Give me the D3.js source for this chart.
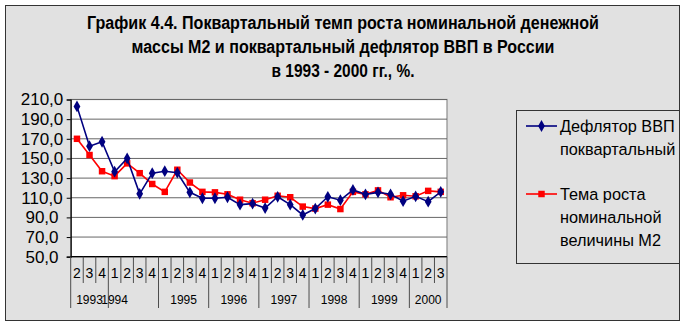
<!DOCTYPE html>
<html>
<head>
<meta charset="utf-8">
<script src="https://cdn.jsdelivr.net/npm/d3@7"></script>
<style>
  html, body { margin: 0; padding: 0; background: #ffffff; }
  svg { display: block; }
  text { font-family: "Liberation Sans", Arial, sans-serif; fill: #000; }
</style>
</head>
<body>
<svg id="chart" width="686" height="328"></svg>
<script>
// Quarterly data, 1993 Q2 – 2000 Q3
const quarterLabels = [
  "2","3","4",
  "1","2","3","4",
  "1","2","3","4",
  "1","2","3","4",
  "1","2","3","4",
  "1","2","3","4",
  "1","2","3","4",
  "1","2","3"
];
const yearLabels = ["1993","1994","1995","1996","1997","1998","1999","2000"];
const quartersPerYear = [3, 4, 4, 4, 4, 4, 4, 3];
// quarters each year caption is merged over (1994's caption covers Q1 only)
const captionQuarters = [3, 1, 4, 4, 4, 4, 4, 3];

// GDP deflator, quarter on quarter, %
const deflator = [
  203, 162.5, 167,
  136.5, 150, 114, 135,
  137, 135.5, 115.5, 109.5,
  109.5, 110.5, 103, 104,
  99.5, 111, 103, 92.5,
  99, 111, 107.5, 118,
  113.5, 115.5, 113.5, 106.5,
  111.5, 106, 116
];
// Growth rate of nominal money supply M2, quarter on quarter, %
const m2Growth = [
  170, 153.5, 137,
  132, 145, 135, 124,
  116, 138.5, 125.5, 116,
  115.5, 113.5, 108, 104.5,
  108, 112, 110.5, 101,
  99, 103, 98.5, 116,
  113.5, 117.5, 110.5, 112.5,
  111.5, 117, 116
];
const yTicks = [50, 70, 90, 110, 130, 150, 170, 190, 210];

const titleLines = [
  "График 4.4. Поквартальный темп роста номинальной денежной",
  "массы М2 и поквартальный дефлятор ВВП в России",
  "в 1993 - 2000 гг., %."
];
const seriesNames = [
  ["Дефлятор ВВП", "поквартальный"],
  ["Тема роста", "номинальной", "величины М2"]
];

const svg = d3.select("#chart");

// chart frame
const frame = { x0: 5, y0: 5, x1: 679, y1: 320 };
svg.append("rect")
  .attr("x", frame.x0 + 0.5).attr("y", frame.y0 + 0.5)
  .attr("width", frame.x1 - frame.x0).attr("height", frame.y1 - frame.y0)
  .attr("fill", "#e1e1e1").attr("stroke", "#333333").attr("stroke-width", 1);

// title, condensed bold
const titleWidths = [512, 423, 143];
const titleG = svg.append("g");
titleLines.forEach((t, i) => {
  titleG.append("text")
    .attr("x", 343).attr("y", 28.5 + i * 24)
    .attr("text-anchor", "middle")
    .attr("font-size", 18).attr("font-weight", "bold")
    .attr("textLength", titleWidths[i])
    .attr("lengthAdjust", "spacingAndGlyphs")
    .text(t);
});

// plot area
const plot = { left: 70.7, right: 447, top: 99.5, bottom: 256.7 };
const idx = d3.range(quarterLabels.length);
const x = d3.scaleBand().domain(idx).range([plot.left, plot.right]).padding(0);
const y = d3.scaleLinear().domain([50, 210]).range([plot.bottom, plot.top]);

svg.append("rect")
  .attr("x", plot.left).attr("y", plot.top)
  .attr("width", plot.right - plot.left).attr("height", plot.bottom - plot.top)
  .attr("fill", "#ffffff").attr("stroke", "#8c8c8c").attr("stroke-width", 1.2);

// horizontal gridlines
svg.append("g").selectAll("line").data(yTicks).join("line")
  .attr("x1", plot.left).attr("x2", plot.right)
  .attr("y1", d => y(d)).attr("y2", d => y(d))
  .attr("stroke", "#666666").attr("stroke-width", 1);

// value axis
const fmt = d3.formatLocale({ decimal: ",", thousands: " ", grouping: [3], currency: ["", ""] }).format(".1f");
const yAxis = svg.append("g")
  .attr("transform", `translate(${plot.left},0)`)
  .call(d3.axisLeft(y).tickValues(yTicks).tickSize(4).tickPadding(0).tickFormat(fmt));
yAxis.select(".domain").attr("stroke", "#000").attr("stroke-width", 1.2);
yAxis.selectAll(".tick line").attr("stroke", "#000");
yAxis.selectAll(".tick text")
  .attr("x", 42 - plot.left).attr("text-anchor", "middle")
  .attr("font-size", 17).attr("font-family", "Liberation Sans, Arial, sans-serif")
  .attr("fill", "#000");

// category axis: quarter row and year row
const catG = svg.append("g");
catG.append("line")
  .attr("x1", plot.left).attr("x2", plot.right)
  .attr("y1", plot.bottom).attr("y2", plot.bottom)
  .attr("stroke", "#000").attr("stroke-width", 1.2);

const quarterRowBottom = 283;
const yearRowBottom = 308;
const yearStarts = [];
quartersPerYear.reduce((acc, n) => { yearStarts.push(acc); return acc + n; }, 0);
const boundaries = d3.range(quarterLabels.length + 1);
const bx = d => d < quarterLabels.length ? x(d) : plot.right;
catG.selectAll("line.sep").data(boundaries).join("line")
  .attr("class", "sep")
  .attr("x1", bx).attr("x2", bx)
  .attr("y1", plot.bottom)
  .attr("y2", d => (yearStarts.includes(d) || d === quarterLabels.length) ? yearRowBottom : quarterRowBottom)
  .attr("stroke", "#4d4d4d").attr("stroke-width", 1);

catG.selectAll("text.q").data(idx).join("text")
  .attr("class", "q")
  .attr("x", d => x(d) + x.bandwidth() / 2)
  .attr("y", 278)
  .attr("text-anchor", "middle")
  .attr("font-size", 14)
  .text(d => quarterLabels[d]);

catG.selectAll("text.yr").data(yearLabels).join("text")
  .attr("class", "yr")
  .attr("x", (d, i) => x(yearStarts[i]) + captionQuarters[i] * x.bandwidth() / 2)
  .attr("y", 303.5)
  .attr("text-anchor", "middle")
  .attr("font-size", 12)
  .text(d => d);

// series
const series = [
  { values: deflator, color: "#000080", shape: d3.symbolDiamond, size: 40 },
  { values: m2Growth, color: "#ff0000", shape: d3.symbolSquare, size: 42 }
];
const cx = i => x(i) + x.bandwidth() / 2;
const line = d3.line().x((d, i) => cx(i)).y(d => y(d));

// M2 first so the deflator sits on top where they cross
[series[1], series[0]].forEach(s => {
  svg.append("path").datum(s.values)
    .attr("d", line).attr("fill", "none")
    .attr("stroke", s.color).attr("stroke-width", 1.6);
  svg.append("g").selectAll("path").data(s.values).join("path")
    .attr("transform", (d, i) => `translate(${cx(i)},${y(d)})`)
    .attr("d", d3.symbol().type(s.shape).size(s.size))
    .attr("fill", s.color);
});

// legend
const leg = { x0: 516, y0: 110, x1: frame.x1, y1: 263 };
svg.append("rect")
  .attr("x", leg.x0 + 0.5).attr("y", leg.y0 + 0.5)
  .attr("width", leg.x1 - leg.x0).attr("height", leg.y1 - leg.y0)
  .attr("fill", "#e1e1e1").attr("stroke", "#333333").attr("stroke-width", 1);

const legendRows = [126, 194];
const lineH = 23;
series.forEach((s, i) => {
  const ly = legendRows[i];
  svg.append("line")
    .attr("x1", 526).attr("x2", 557).attr("y1", ly).attr("y2", ly)
    .attr("stroke", s.color).attr("stroke-width", 1.6);
  svg.append("path")
    .attr("transform", `translate(541.5,${ly})`)
    .attr("d", d3.symbol().type(s.shape).size(s.size))
    .attr("fill", s.color);
  seriesNames[i].forEach((t, k) => {
    svg.append("text")
      .attr("x", 560).attr("y", ly + 6 + k * lineH)
      .attr("font-size", 16.3)
      .text(t);
  });
});
</script>
</body>
</html>
